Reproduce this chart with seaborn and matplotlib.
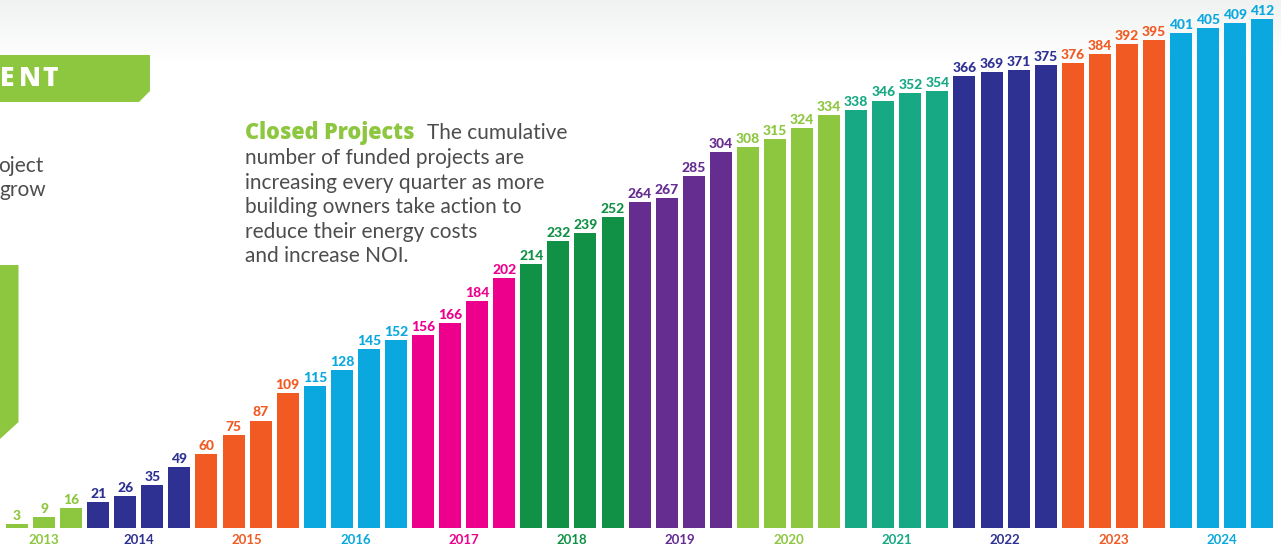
import matplotlib
matplotlib.use("Agg")
import matplotlib.pyplot as plt
import matplotlib.patches as mpatches
import numpy as np
import pandas as pd
import seaborn as sns

# ---------------- data ----------------
years = ["2013", "2014", "2015", "2016", "2017", "2018",
         "2019", "2020", "2021", "2022", "2023", "2024"]
quarters_per_year = {
    "2013": ["Q2", "Q3", "Q4"],
}
values_2013 = [3, 9, 16]
values_2014 = [21, 26, 35, 49]
values_2015 = [60, 75, 87, 109]
values_2016 = [115, 128, 145, 152]
values_2017 = [156, 166, 184, 202]
values_2018 = [214, 232, 239, 252]
values_2019 = [264, 267, 285, 304]
values_2020 = [308, 315, 324, 334]
values_2021 = [338, 346, 352, 354]
values_2022 = [366, 369, 371, 375]
values_2023 = [376, 384, 392, 395]
values_2024 = [401, 405, 409, 412]
year_colors = ["#8DC63F", "#2E3192", "#F15A22", "#0AA8DE", "#EC008C", "#119146",
               "#662D91", "#8DC63F", "#17A884", "#2E3192", "#F15A22", "#0AA8DE"]

all_values = [values_2013, values_2014, values_2015, values_2016, values_2017,
              values_2018, values_2019, values_2020, values_2021, values_2022,
              values_2023, values_2024]

rows = []
for y, vals in zip(years, all_values):
    qs = quarters_per_year.get(y, ["Q1", "Q2", "Q3", "Q4"])
    for q, v in zip(qs, vals):
        rows.append({"quarter": f"{y} {q}", "year": y, "projects": v})
df = pd.DataFrame(rows)
palette = dict(zip(years, year_colors))

# ---------------- figure ----------------
W, H = 1281, 546
fig = plt.figure(figsize=(W / 100, H / 100), dpi=100)
fig.patch.set_facecolor("white")

# top gradient background
bg = fig.add_axes([0, 0, 1, 1], zorder=0)
grad = np.linspace(0, 1, 200).reshape(-1, 1)
grad = np.clip(grad * 546 / 60, 0, 1)
top = np.array([0.945, 0.949, 0.949])
img = top[None, None, :] * (1 - grad[:, :, None]) + np.ones(3)[None, None, :] * grad[:, :, None]
bg.imshow(img, aspect="auto", extent=[0, W, H, 0])
bg.set_xlim(0, W)
bg.set_ylim(H, 0)
bg.axis("off")

# bar axes covering the whole figure, pixel-calibrated limits
ax = fig.add_axes([0, 0, 1, 1], zorder=2)
ax.patch.set_alpha(0)
step = 27.07
x0 = 17.0
px_per_unit = 509 / 412
sns.barplot(data=df, x="quarter", y="projects", hue="year", palette=palette,
            dodge=False, width=22 / step, saturation=1, legend=False, ax=ax)
ax.set_xlim(-x0 / step, (W - x0) / step)
ax.set_ylim(-(H - 528) / px_per_unit, 528 / px_per_unit)
ax.axis("off")

font = "Lato"
# value labels
for i, r in df.iterrows():
    ax.annotate(str(r["projects"]), (i, r["projects"]), xytext=(0, 1.5),
                textcoords="offset points", ha="center", va="bottom",
                fontsize=10, fontweight="black", color=palette[r["year"]],
                family=font)
# year labels
for y in years:
    idx = np.asarray(df.index[df["year"] == y])
    ax.text(float(idx.mean()), -(540 - 528) / px_per_unit, y, ha="center", va="center",
            fontsize=9.5, fontweight="bold", color=palette[y], family=font)

# ---------------- decorations (pixel coordinates) ----------------
deco = fig.add_axes([0, 0, 1, 1], zorder=3)
deco.patch.set_alpha(0)
deco.set_xlim(0, W)
deco.set_ylim(H, 0)
deco.axis("off")

banner = mpatches.Polygon([(0, 55), (150, 55), (150, 91), (139, 102), (0, 102)],
                          closed=True, color="#8DC63F", lw=0)
deco.add_patch(banner)
for letter, lx in zip("ENT", [0, 19, 42]):
    deco.text(lx, 79, letter, color="white", fontsize=19, fontweight=800,
              family="Open Sans", va="center", ha="left")
shape = mpatches.Polygon([(0, 265), (18.5, 265), (18.5, 422), (0, 439)],
                         closed=True, color="#8DC63F", lw=0)
deco.add_patch(shape)

gray = "#4D4D4D"
deco.text(-2, 166, "oject", color=gray, fontsize=15, family=font,
          va="center", ha="left")
deco.text(-1, 190, "grow", color=gray, fontsize=15, family=font,
          va="center", ha="left")

deco.text(245, 133, "Closed Projects", color="#8DC63F", fontsize=15.6,
          fontweight=800, family="Open Sans", va="center", ha="left")
deco.text(427, 133, "The cumulative", color=gray, fontsize=15, family=font,
          va="center", ha="left")
para = ["number of funded projects are",
        "increasing every quarter as more",
        "building owners take action to",
        "reduce their energy costs",
        "and increase NOI."]
for k, line in enumerate(para):
    deco.text(245, 158 + k * 24.6, line, color=gray, fontsize=15, family=font,
              va="center", ha="left")

fig.savefig("out.png", dpi=100)
